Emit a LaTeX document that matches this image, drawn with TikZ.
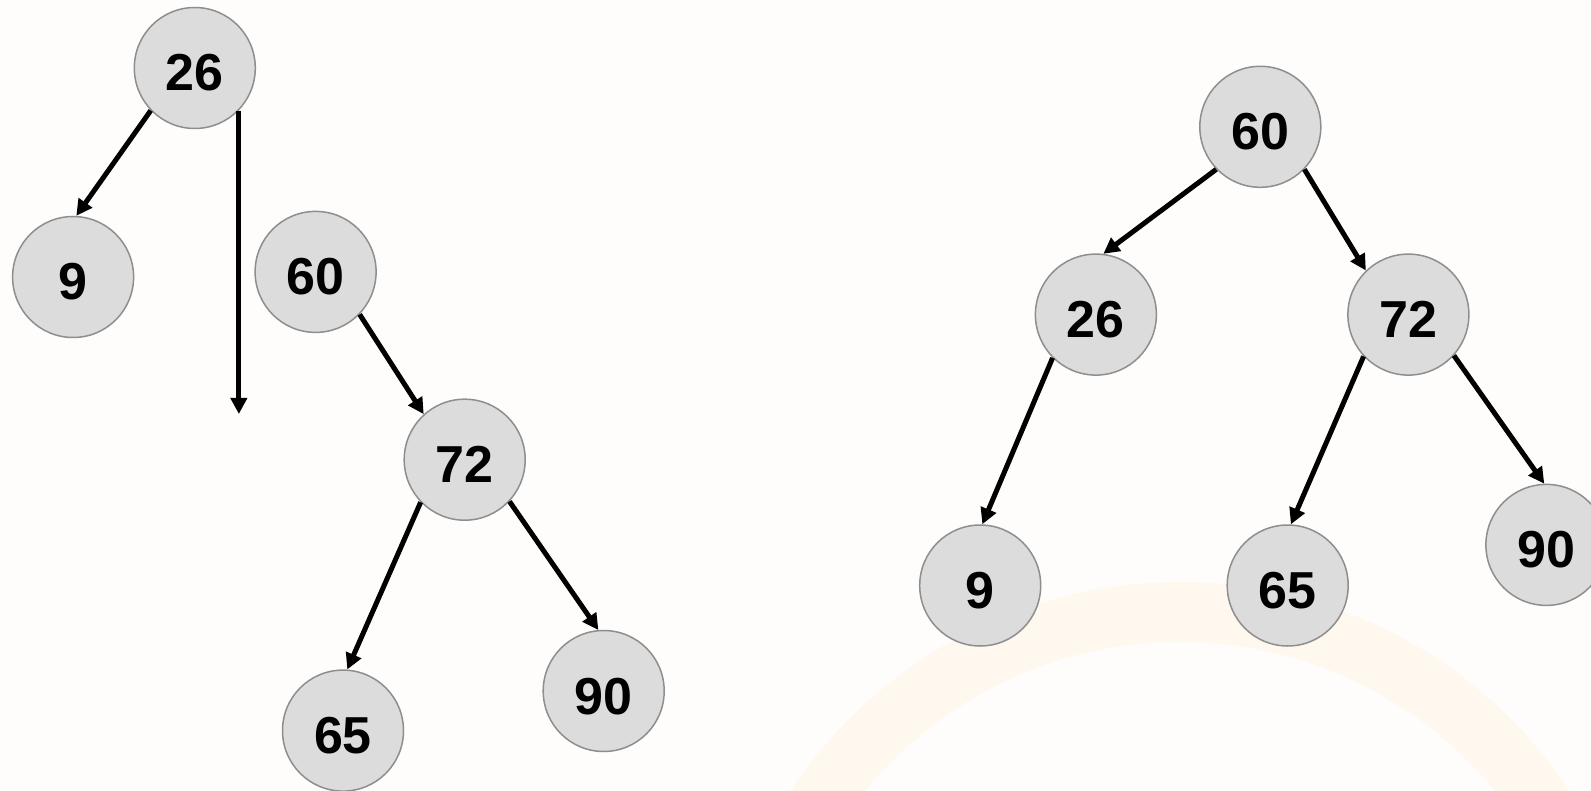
\documentclass[tikz,border=0pt]{standalone}
\usepackage{fontspec}
\setmainfont{Liberation Sans}
\usetikzlibrary{arrows.meta}
\definecolor{bgcol}{HTML}{FEFDFB}
\definecolor{nodefill}{HTML}{DCDCDC}
\definecolor{nodeborder}{HTML}{8E8E8E}
\definecolor{arccol}{HTML}{FFF8EF}
\tikzset{
  tnode/.style={circle, draw=nodeborder, fill=nodefill, line width=1.5pt,
    minimum size=121pt, inner sep=0pt, text height=46pt, text depth=0pt,
    font=\fontsize{52}{52}\selectfont\bfseries},
  edge/.style={line width=5pt, -{Triangle[length=16pt,width=16pt]}}
}
\begin{document}
\begin{tikzpicture}[x=1pt,y=-1pt]
\fill[bgcol] (0,0) rectangle (1591,791);
\useasboundingbox (0,0) rectangle (1591,791);
% faint background arc
\begin{scope}
\clip (0,0) rectangle (1591,791);
\draw[arccol, line width=60pt] (1180,1050) circle (438);
\end{scope}
% left tree
\node[tnode] (L26) at (194.8,68) {26};
\node[tnode] (L9) at (73.1,277) {9};
\node[tnode] (L60) at (315.6,271.9) {60};
\node[tnode] (L72) at (464.7,459.7) {72};
\node[tnode] (L65) at (343,730.6) {65};
\node[tnode] (L90) at (603.7,691) {90};
\coordinate (Lend) at (237.4,414);
\draw[edge] (L26.-136) -- (L9.87);
\draw[edge] (L26.-44) -- (L26.-44 |- Lend);
\draw[edge] (L60.-44) -- (L72.132);
\draw[edge] (L72.-136) -- (L65.86);
\draw[edge] (L72.-43) -- (L90.95);
% right tree
\node[tnode] (R60) at (1260.3,126.8) {60};
\node[tnode] (R26) at (1095.9,314.6) {26};
\node[tnode] (R72) at (1408.4,314.6) {72};
\node[tnode] (R9) at (980.2,585.5) {9};
\node[tnode] (R65) at (1287.7,585.5) {65};
\node[tnode] (R90) at (1546.4,544.9) {90};
\draw[edge] (R60.-136) -- (R26.83);
\draw[edge] (R60.-44) -- (R72.134);
\draw[edge] (R26.-135) -- (R9.88);
\draw[edge] (R72.-137) -- (R65.87);
\draw[edge] (R72.-42) -- (R90.92);
\end{tikzpicture}
\end{document}
